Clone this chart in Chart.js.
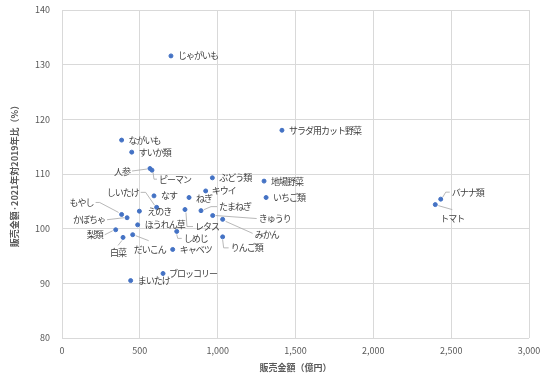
<!DOCTYPE html>
<html>
<head>
<meta charset="utf-8">
<script src="https://cdn.jsdelivr.net/npm/chart.js@4/dist/chart.umd.min.js"></script>
<style>
  html, body { margin: 0; padding: 0; background: #fff; }
  #wrap { width: 558px; height: 379px; }
</style>
</head>
<body>
<div id="wrap"><canvas id="chart"></canvas></div>
<script>
// Data
const items = ["じゃがいも", "サラダ用カット野菜", "ながいも", "すいか類", "人参", "ピーマン", "ぶどう類", "地場野菜",
  "キウイ", "いちご類", "なす", "ねぎ", "しいたけ", "えのき", "レタス", "たまねぎ", "きゅうり", "みかん",
  "もやし", "かぼちゃ", "ほうれん草", "しめじ", "梨類", "だいこん", "白菜", "りんご類", "キャベツ",
  "ブロッコリー", "まいたけ", "バナナ類", "トマト"];
const sales = [700, 1413, 383, 448, 565, 578, 966, 1298,
  923, 1311, 591, 816, 608, 497, 790, 893, 968, 1032,
  383, 418, 486, 737, 345, 454, 392, 1032, 711,
  649, 441, 2433, 2398];
const ratio = [131.6, 118.0, 116.2, 114.0, 111.0, 110.7, 109.3, 108.7,
  106.9, 105.7, 106.0, 105.7, 103.9, 103.2, 103.5, 103.3, 102.4, 101.7,
  102.6, 102.0, 100.7, 99.5, 99.8, 98.9, 98.4, 98.5, 96.2,
  91.8, 90.5, 105.4, 104.4];
const xTicks = [0, 500, 1000, 1500, 2000, 2500, 3000];
const yTicks = [80, 90, 100, 110, 120, 130, 140];

// Label placement (px offsets from the point, and leader line polylines)
const labelPlacement = {
  "人参": { dx: -20, dy: 3, align: "right", lead: [[-18, 2.5], [-3, 0.5]] },
  "ピーマン": { dx: 7, dy: 9, lead: [[1, 2], [2, 9], [5, 9]] },
  "キウイ": { dx: 6, dy: 0 },
  "ねぎ": { dx: 7, dy: 1 },
  "しいたけ": { dx: -18, dy: -15, align: "right", lead: [[-16, -15], [-11, -15], [-2, -2]] },
  "えのき": { dx: 8, dy: 0 },
  "レタス": { dx: 10, dy: 17, lead: [[1, 3], [2, 17], [8, 17]] },
  "たまねぎ": { dx: 18, dy: -4, lead: [[3, -1], [10, -4], [16, -4]] },
  "きゅうり": { dx: 46, dy: 3, lead: [[3, 0], [44, 3]] },
  "みかん": { dx: 32, dy: 15, lead: [[3, 2], [30, 14]] },
  "りんご類": { dx: 8, dy: 11, lead: [[0, 3], [1, 11], [6, 11]] },
  "もやし": { dx: -28, dy: -12, align: "right", lead: [[-26, -12], [-22, -12], [-3, -2]] },
  "かぼちゃ": { dx: -22, dy: 2, align: "right", lead: [[-20, 2], [-3, 0]] },
  "しめじ": { dx: 7, dy: 7, lead: [[0, 3], [1, 7], [5, 7]] },
  "梨類": { dx: -13, dy: 5, align: "right", lead: [[-11, 5], [-3, 1]] },
  "だいこん": { dx: 17, dy: 15, align: "center", lead: [[3, 1], [16, 6]] },
  "白菜": { dx: -5, dy: 15, align: "center", lead: [[-1, 3], [-5, 8]] },
  "ブロッコリー": { dx: 6, dy: 0 },
  "バナナ類": { dx: 11, dy: -7, lead: [[2, -2], [5, -7], [9, -7]] },
  "トマト": { dx: 17, dy: 14, align: "center", lead: [[3, 1], [17, 5]] },
};

const FONT = "'Noto Sans CJK JP', 'Noto Sans', sans-serif";

// Draw point labels and leader lines
const pointLabels = {
  id: "pointLabels",
  afterDatasetsDraw(chart) {
    const ctx = chart.ctx;
    const meta = chart.getDatasetMeta(0);
    ctx.save();
    ctx.font = "9px " + FONT;
    ctx.letterSpacing = "-1px";
    ctx.textBaseline = "middle";
    meta.data.forEach((pt, i) => {
      const p = labelPlacement[items[i]] || { dx: 7, dy: 0 };
      if (p.lead) {
        ctx.strokeStyle = "#a6a6a6";
        ctx.lineWidth = 0.8;
        ctx.beginPath();
        p.lead.forEach(([lx, ly], k) => {
          if (k === 0) ctx.moveTo(pt.x + lx, pt.y + ly);
          else ctx.lineTo(pt.x + lx, pt.y + ly);
        });
        ctx.stroke();
      }
      ctx.fillStyle = "#404040";
      ctx.textAlign = p.align || "left";
      ctx.fillText(items[i], pt.x + p.dx, pt.y + p.dy);
    });
    ctx.restore();
  },
};

new Chart(document.getElementById("chart"), {
  type: "scatter",
  data: {
    datasets: [{
      data: sales.map((s, i) => ({ x: s, y: ratio[i] })),
      backgroundColor: "#4472C4",
      borderColor: "#4472C4",
      pointRadius: 2,
      pointHoverRadius: 2,
    }],
  },
  options: {
    responsive: true,
    maintainAspectRatio: false,
    animation: false,
    events: [],
    layout: { padding: { top: 10, right: 29, left: 0, bottom: 0 } },
    plugins: {
      legend: { display: false },
      tooltip: { enabled: false },
    },
    scales: {
      x: {
        type: "linear",
        min: 0,
        max: 3000,
        afterBuildTicks: (s) => { s.ticks = xTicks.map((v) => ({ value: v })); },
        afterFit: (s) => { s.height = 41; s.paddingLeft = 0; s.paddingRight = 0; },
        grid: { color: "#d9d9d9", drawTicks: false },
        border: { display: false },
        ticks: {
          padding: 7,
          color: "#595959",
          font: { family: FONT, size: 9 },
          callback: (v) => v.toLocaleString("en-US"),
        },
        title: {
          display: true,
          text: "販売金額（億円）",
          color: "#595959",
          font: { family: FONT, size: 9, weight: "bold" },
          padding: { top: 0, bottom: 6 },
        },
      },
      y: {
        type: "linear",
        min: 80,
        max: 140,
        afterBuildTicks: (s) => { s.ticks = yTicks.map((v) => ({ value: v })); },
        afterFit: (s) => { s.width = 62; s.paddingTop = 0; s.paddingBottom = 0; },
        grid: { color: "#d9d9d9", drawTicks: false },
        border: { display: false },
        ticks: {
          padding: 12,
          color: "#595959",
          font: { family: FONT, size: 9 },
        },
        title: {
          display: true,
          text: "販売金額·2021年対2019年比（%）",
          color: "#595959",
          font: { family: FONT, size: 9, weight: "bold" },
          padding: { top: 9, bottom: 0 },
        },
      },
    },
  },
  plugins: [pointLabels],
});
</script>
</body>
</html>
